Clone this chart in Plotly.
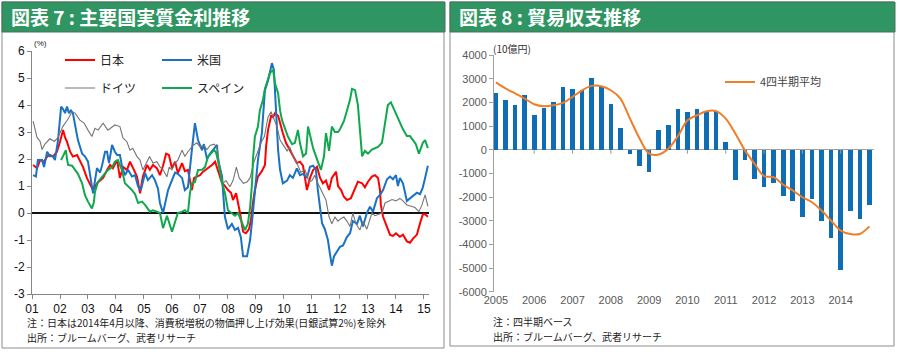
import plotly.graph_objects as go

# ---------------- Left chart: real interest rates (%) ----------------
jp_t = [2001.04, 2001.18, 2001.29, 2001.43, 2001.54, 2001.64, 2001.75, 2001.89,
        2002.00, 2002.11, 2002.18, 2002.25, 2002.36, 2002.46, 2002.61, 2002.71, 2002.82, 2002.96,
        2003.07, 2003.18, 2003.32, 2003.43, 2003.54, 2003.68, 2003.79, 2003.89,
        2004.04, 2004.14, 2004.25, 2004.39, 2004.50, 2004.61, 2004.75, 2004.86, 2004.96,
        2005.11, 2005.21, 2005.32, 2005.46, 2005.57, 2005.68, 2005.79, 2005.89,
        2006.00, 2006.11, 2006.21, 2006.36, 2006.46, 2006.57, 2006.71, 2006.79, 2006.89,
        2007.00, 2007.11, 2007.21, 2007.32, 2007.43, 2007.54, 2007.64, 2007.79, 2007.89,
        2008.00, 2008.11, 2008.18, 2008.29, 2008.36, 2008.43, 2008.54, 2008.64, 2008.75, 2008.82, 2008.89, 2008.96,
        2009.07, 2009.21, 2009.32, 2009.36, 2009.43, 2009.54, 2009.61, 2009.68, 2009.79, 2009.86, 2009.96,
        2010.07, 2010.21, 2010.32, 2010.46, 2010.57, 2010.68, 2010.82, 2010.93,
        2011.04, 2011.18, 2011.29, 2011.39, 2011.50, 2011.61, 2011.71, 2011.86, 2011.93,
        2012.04, 2012.14, 2012.25, 2012.39, 2012.50, 2012.64, 2012.79, 2012.89,
        2013.00, 2013.14, 2013.25, 2013.36, 2013.43, 2013.46, 2013.54, 2013.68, 2013.79, 2013.89,
        2014.00, 2014.14, 2014.25, 2014.39, 2014.50, 2014.61, 2014.75, 2014.86, 2014.96,
        2015.04, 2015.14]
jp_v = [1.78, 1.66, 1.96, 1.90, 2.09, 2.15, 2.09, 2.27,
        2.64, 3.07, 2.80, 2.64, 2.27, 2.09, 2.15, 1.96, 1.71, 1.30,
        1.10, 0.85, 1.10, 1.22, 1.30, 1.59, 1.78, 1.66,
        1.96, 1.30, 1.71, 1.59, 1.90, 1.66, 1.35, 0.73, 1.35,
        1.78, 1.60, 1.78, 1.66, 1.40, 1.75, 2.20, 2.15,
        1.66, 1.90, 1.48, 1.85, 1.55, 1.60, 0.85, 1.30, 1.35,
        1.40, 1.53, 1.60, 1.71, 1.78, 1.90, 1.60, 1.10, 1.00,
        0.85, 0.75, 0.48, 0.73, 0.40, 0.00, -0.69, -0.75, -0.60, -0.26, 0.37, 0.85,
        1.35, 1.55, 1.78, 2.46, 3.07, 3.60, 3.55, 3.70, 3.60, 3.30, 2.96,
        2.60, 2.33, 2.10, 1.85, 1.90, 1.75, 0.85, 1.30,
        1.59, 1.71, 1.30, 1.10, 1.20, 0.85, 1.30, 1.53, 1.00,
        0.85, 0.60, 0.48, 0.55, 0.80, 1.16, 1.10, 0.95,
        1.16, 1.35, 1.40, 1.30, 0.85, 0.30, -0.14, -0.50, -0.81, -0.85,
        -0.75, -0.88, -0.80, -1.05, -1.10, -0.95, -0.80, -0.38, -0.05,
        -0.05, -0.14]

us_t = [2001.04, 2001.14, 2001.21, 2001.36, 2001.43, 2001.54, 2001.64, 2001.75, 2001.82, 2001.93,
        2002.04, 2002.11, 2002.18, 2002.25, 2002.32, 2002.39, 2002.46, 2002.54, 2002.64, 2002.79, 2002.89,
        2003.00, 2003.11, 2003.18, 2003.25, 2003.32, 2003.43, 2003.50, 2003.61, 2003.68, 2003.75, 2003.86, 2003.96,
        2004.04, 2004.14, 2004.21, 2004.32, 2004.43, 2004.57, 2004.68, 2004.79, 2004.89,
        2005.04, 2005.14, 2005.29, 2005.39, 2005.50, 2005.57, 2005.68, 2005.75, 2005.86,
        2006.00, 2006.11, 2006.21, 2006.36, 2006.46, 2006.57, 2006.71, 2006.82, 2006.93,
        2007.07, 2007.14, 2007.25, 2007.36, 2007.46, 2007.61, 2007.64, 2007.79, 2007.82, 2007.89,
        2008.00, 2008.14, 2008.25, 2008.36, 2008.46, 2008.54, 2008.68, 2008.79, 2008.86, 2008.96,
        2009.07, 2009.21, 2009.32, 2009.43, 2009.50, 2009.57, 2009.64, 2009.68, 2009.75, 2009.79, 2009.86, 2009.96,
        2010.11, 2010.21, 2010.32, 2010.46, 2010.57, 2010.68, 2010.82, 2010.93,
        2011.04, 2011.14, 2011.21, 2011.36, 2011.46, 2011.57, 2011.64, 2011.71, 2011.79, 2011.89,
        2012.00, 2012.11, 2012.25, 2012.36, 2012.46, 2012.61, 2012.71, 2012.82, 2012.96,
        2013.07, 2013.18, 2013.32, 2013.43, 2013.54, 2013.68, 2013.79, 2013.89,
        2014.00, 2014.07, 2014.14, 2014.25, 2014.39, 2014.50, 2014.61, 2014.75, 2014.86, 2014.96,
        2015.04, 2015.14]
us_v = [1.40, 1.35, 1.96, 1.96, 1.70, 2.27, 2.10, 2.10, 1.96, 2.70,
        3.94, 3.85, 3.70, 3.94, 3.70, 3.80, 3.70, 3.20, 2.70, 2.20, 2.10,
        1.90, 1.10, 0.73, 1.20, 1.66, 1.50, 1.75, 2.27, 2.27, 1.85, 2.52, 2.27,
        2.15, 2.15, 1.75, 1.40, 1.60, 1.35, 1.40, 0.98, 0.85,
        1.48, 1.22, 1.40, 1.22, 0.90, 0.37, 0.00, 0.30, 0.85,
        1.22, 1.50, 1.45, 1.30, 0.85, 0.95, 2.33, 3.33, 2.70,
        2.33, 2.55, 2.00, 2.20, 2.33, 2.52, 2.00, 1.35, 0.85, -0.14,
        -0.60, -0.40, -0.63, -0.55, -0.90, -1.60, -1.60, -1.00, -0.30, 0.85,
        1.96, 2.96, 4.55, 4.90, 5.20, 5.55, 5.30, 4.60, 3.30, 2.33, 1.60, 1.10,
        1.20, 1.40, 1.30, 1.65, 1.40, 1.45, 1.30, 1.71,
        1.75, 1.60, 0.85, -0.38, -0.60, -1.00, -1.50, -1.95, -1.60, -1.45,
        -1.25, -1.20, -0.88, -0.75, -0.30, -0.40, -0.10, -0.50, 0.00,
        0.23, 0.05, 0.55, 0.67, 0.85, 1.25, 1.35, 1.25,
        1.40, 1.00, 1.30, 1.10, 0.45, 0.55, 0.65, 0.75, 0.70, 0.95,
        1.30, 1.75]

de_t = [2001.04, 2001.18, 2001.29, 2001.36, 2001.46, 2001.64, 2001.80, 2001.93,
        2002.10, 2002.30, 2002.43, 2002.54, 2002.71, 2002.86,
        2003.00, 2003.14, 2003.25, 2003.36, 2003.54, 2003.71, 2003.96,
        2004.14, 2004.25, 2004.39, 2004.50, 2004.60, 2004.75, 2004.86, 2004.96,
        2005.10, 2005.20, 2005.32, 2005.46, 2005.57, 2005.68, 2005.82, 2005.90,
        2006.00, 2006.11, 2006.21, 2006.36, 2006.46, 2006.57, 2006.75, 2006.89,
        2007.00, 2007.14, 2007.25, 2007.36, 2007.50, 2007.61, 2007.71, 2007.82, 2007.93,
        2008.07, 2008.18, 2008.30, 2008.40, 2008.55, 2008.68, 2008.79, 2008.93,
        2009.07, 2009.18, 2009.30, 2009.43, 2009.54, 2009.64, 2009.75, 2009.86,
        2010.00, 2010.11, 2010.21, 2010.32, 2010.46, 2010.60, 2010.75, 2010.90,
        2011.00, 2011.10, 2011.21, 2011.36, 2011.50, 2011.61, 2011.71, 2011.82, 2011.93,
        2012.04, 2012.14, 2012.25, 2012.36, 2012.46, 2012.57, 2012.71, 2012.82, 2012.96,
        2013.14, 2013.25, 2013.39, 2013.50, 2013.61, 2013.75, 2013.86,
        2014.00, 2014.14, 2014.25, 2014.39, 2014.54, 2014.68, 2014.82, 2014.93,
        2015.04, 2015.14]
de_v = [3.40, 2.80, 2.65, 2.35, 2.55, 2.75, 2.65, 2.80,
        3.20, 3.50, 3.75, 3.70, 3.44, 3.33,
        3.07, 2.83, 3.14, 3.07, 3.33, 3.07, 3.26,
        3.20, 2.78, 2.64, 2.33, 2.40, 2.09, 1.96, 1.59,
        1.90, 2.09, 1.85, 1.90, 1.71, 1.60, 1.34, 1.70,
        1.60, 1.85, 1.96, 2.33, 2.09, 2.27, 2.50, 2.60,
        2.45, 2.50, 2.35, 2.50, 2.55, 2.44, 1.70, 1.10, 1.20,
        0.97, 1.20, 1.70, 1.30, 1.10, 1.15, 1.30, 1.90,
        2.33, 2.60, 2.83, 3.55, 3.75, 3.50, 3.20, 2.70,
        2.46, 2.30, 2.45, 2.10, 1.85, 1.50, 1.60, 1.15,
        1.20, 1.40, 1.10, 0.80, 0.48, -0.14, -0.40, -0.15, -0.30,
        -0.20, -0.15, -0.30, -0.50, 0.00, -0.40, -0.63, -0.30, -0.60,
        0.00, -0.10, -0.05, 0.00, 0.37, 0.45, 0.50,
        0.45, 0.54, 0.45, 0.30, 0.25, 0.20, 0.05, 0.30,
        0.67, 0.25]

es_t = [2002.04, 2002.11, 2002.21, 2002.25, 2002.29, 2002.43, 2002.54, 2002.64, 2002.79, 2002.86, 2002.89,
        2003.00, 2003.14, 2003.21, 2003.25, 2003.36, 2003.50, 2003.61, 2003.71, 2003.86, 2003.96,
        2004.07, 2004.21, 2004.32, 2004.43, 2004.57, 2004.68, 2004.79, 2004.93,
        2005.04, 2005.21, 2005.32, 2005.46, 2005.57, 2005.68, 2005.82,
        2006.00, 2006.14, 2006.21, 2006.36, 2006.46, 2006.57, 2006.64, 2006.71, 2006.82, 2006.93,
        2007.07, 2007.18, 2007.29, 2007.39, 2007.50, 2007.57, 2007.64, 2007.79, 2007.89,
        2008.00, 2008.14, 2008.25, 2008.36, 2008.50, 2008.61, 2008.71, 2008.79, 2008.86, 2008.89, 2008.96,
        2009.07, 2009.14, 2009.25, 2009.32, 2009.43, 2009.50, 2009.61, 2009.68, 2009.79, 2009.86, 2009.93,
        2010.04, 2010.14, 2010.29, 2010.39, 2010.50, 2010.57, 2010.68, 2010.79, 2010.86, 2010.93,
        2011.04, 2011.21, 2011.32, 2011.43, 2011.50, 2011.61, 2011.71, 2011.82, 2011.93,
        2012.00, 2012.14, 2012.25, 2012.36, 2012.43, 2012.54, 2012.64, 2012.71, 2012.79, 2012.89,
        2013.00, 2013.14, 2013.25, 2013.36, 2013.50, 2013.61, 2013.71, 2013.82, 2013.93,
        2014.04, 2014.14, 2014.25, 2014.39, 2014.50, 2014.61, 2014.71, 2014.82, 2014.96,
        2015.04, 2015.14]
es_v = [1.96, 2.10, 2.33, 2.00, 1.78, 1.75, 1.59, 1.45, 1.10, 0.75, 0.67,
        0.42, 0.17, 0.40, 0.79, 1.16, 1.35, 1.50, 1.59, 1.70, 1.90,
        1.96, 1.60, 1.10, 1.00, 0.85, 0.70, 0.37, 0.42,
        0.30, 0.05, 0.10, 0.05, 0.00, -0.56, -0.10,
        -0.69, -0.20, 0.00, 0.05, 0.10, 0.00, 0.73, 1.10, 1.15, 1.59,
        1.60, 1.70, 2.09, 2.20, 2.33, 2.25, 1.96, 1.10, 0.75,
        0.10, 0.00, -0.10, 0.00, -0.38, -0.63, -0.40, 0.20, 1.10, 1.96, 2.83,
        3.20, 3.81, 4.19, 4.60, 4.93, 5.18, 5.30, 4.80, 4.44, 3.80, 3.44,
        3.10, 2.83, 2.55, 2.60, 3.07, 2.60, 2.10, 2.20, 3.20, 2.90,
        2.40, 1.90, 1.60, 2.10, 2.96, 2.30, 3.20, 3.00, 3.00,
        3.10, 3.40, 3.80, 4.20, 4.60, 4.55, 4.00, 3.00, 2.10, 2.30,
        2.20, 2.35, 2.40, 2.45, 2.60, 3.30, 4.00, 4.10, 3.85,
        3.60, 3.40, 3.10, 2.85, 2.85, 2.70, 2.55, 2.20, 2.60,
        2.70, 2.40]

left_tick_years = list(range(2001, 2016))
left_tick_labels = ["01", "02", "03", "04", "05", "06", "07", "08",
                    "09", "10", "11", "12", "13", "14", "15"]
left_y_ticks = [-3, -2, -1, 0, 1, 2, 3, 4, 5, 6]

# ---------------- Right chart: trade balance (10億円) ----------------
quarters = [f"{y}Q{q}" for y in range(2005, 2015) for q in range(1, 5)]
trade_balance = [2400, 2100, 1900, 2300, 1450, 1750, 2000, 2650,
                 2580, 2530, 3030, 2650, 1920, 910, -170, -670,
                 -950, 820, 1060, 1700, 1590, 1700, 1650, 1630,
                 320, -1300, -450, -1230, -1570, -1410, -1940, -2180,
                 -2830, -2080, -3000, -3750, -5080, -2570, -2920, -2330]
trade_avg4 = [2840, 2585, 2375, 2160, 1920, 1835, 1875, 1975,
              2230, 2510, 2695, 2680, 2510, 2160, 1310, 470,
              -170, -200, 40, 565, 1240, 1455, 1625, 1630,
              1310, 680, -30, -590, -1120, -1160, -1480, -1725,
              -2010, -2220, -2570, -3000, -3420, -3560, -3560, -3240]
right_tick_years = list(range(2005, 2015))
right_y_ticks = list(range(-6000, 4001, 1000))

# ---------------- helpers ----------------
W, H = 900, 356
def px(x): return x / W
def py(y): return 1 - y / H

JP = "Noto Sans CJK JP"
NUM = "Liberation Sans, Arial, Noto Sans CJK JP"
q_pos = [int(q[:4]) + (int(q[-1]) - 1) / 4 for q in quarters]

fig = go.Figure()

series = [
    ("日本", jp_t, jp_v, "#ff0000", 2.0, "legend"),
    ("米国", us_t, us_v, "#1a72c4", 2.0, "legend"),
    ("ドイツ", de_t, de_v, "#767676", 1.1, "legend2"),
    ("スペイン", es_t, es_v, "#10a84e", 2.0, "legend2"),
]
for name, t, v, c, w, lg in series:
    fig.add_trace(go.Scatter(x=t, y=v, mode="lines", name=name,
                             line=dict(color=c, width=w),
                             xaxis="x", yaxis="y", legend=lg))

fig.add_trace(go.Bar(x=q_pos, y=trade_balance, width=0.12,
                     marker=dict(color="#0f6db4", line=dict(width=0)),
                     xaxis="x2", yaxis="y2", showlegend=False))
fig.add_trace(go.Scatter(x=q_pos, y=trade_avg4, mode="lines", name="4四半期平均",
                         line=dict(color="#f07d28", width=2, shape="spline", smoothing=0.9),
                         xaxis="x2", yaxis="y2", legend="legend3"))

GREEN = "#2f9663"
shapes = [
    dict(type="rect", xref="paper", yref="paper", x0=px(2), x1=px(444), y0=py(348), y1=py(2),
         line=dict(color="#8c8c8c", width=1), fillcolor="white", layer="below"),
    dict(type="rect", xref="paper", yref="paper", x0=px(450), x1=px(894), y0=py(346), y1=py(2),
         line=dict(color="#8c8c8c", width=1), fillcolor="white", layer="below"),
    dict(type="rect", xref="paper", yref="paper", x0=px(2), x1=px(445), y0=py(32), y1=py(2),
         line=dict(color="#4c6e5a", width=1), fillcolor=GREEN, layer="below"),
    dict(type="rect", xref="paper", yref="paper", x0=px(450), x1=px(895), y0=py(32), y1=py(2),
         line=dict(color="#4c6e5a", width=1), fillcolor=GREEN, layer="below"),
]
for yr in right_tick_years[1:]:
    shapes.append(dict(type="line", xref="x2", yref="y2", x0=yr, x1=yr, y0=0, y1=-170,
                       line=dict(color="#9a9a9a", width=1)))

note_font = dict(family=JP, size=10, color="#222")
annotations = [
    dict(text="図表 7 : 主要国実質金利推移", xref="paper", yref="paper", x=px(9), y=py(17),
         xanchor="left", yanchor="middle", showarrow=False,
         font=dict(family=JP, size=19, color="white", weight="bold")),
    dict(text="図表 8 : 貿易収支推移", xref="paper", yref="paper", x=px(457), y=py(17),
         xanchor="left", yanchor="middle", showarrow=False,
         font=dict(family=JP, size=19, color="white", weight="bold")),
    dict(text="(%)", xref="paper", yref="paper", x=px(32), y=py(44),
         xanchor="left", yanchor="middle", showarrow=False,
         font=dict(family=NUM, size=8, color="#222")),
    dict(text="(10億円)", xref="paper", yref="paper", x=px(491), y=py(48),
         xanchor="left", yanchor="middle", showarrow=False,
         font=dict(family=JP, size=10, color="#333")),
    dict(text="注：日本は2014年4月以降、消費税増税の物価押し上げ効果(日銀試算2%)を除外",
         xref="paper", yref="paper", x=px(26), y=py(322.5), xanchor="left", yanchor="middle",
         showarrow=False, borderpad=0, font=note_font),
    dict(text="出所：ブルームバーグ、武者リサーチ",
         xref="paper", yref="paper", x=px(26), y=py(337.5), xanchor="left", yanchor="middle",
         showarrow=False, borderpad=0, font=note_font),
    dict(text="注：四半期ベース",
         xref="paper", yref="paper", x=px(492), y=py(321), xanchor="left", yanchor="middle",
         showarrow=False, borderpad=0, font=note_font),
    dict(text="出所：ブルームバーグ、武者リサーチ",
         xref="paper", yref="paper", x=px(492), y=py(336), xanchor="left", yanchor="middle",
         showarrow=False, borderpad=0, font=note_font),
]

leg_common = dict(orientation="h", xanchor="left", yanchor="middle",
                  bgcolor="rgba(0,0,0,0)", borderwidth=0, itemwidth=30,
                  entrywidthmode="pixels", itemclick=False, itemdoubleclick=False)

fig.update_layout(
    width=W, height=H, autosize=False,
    margin=dict(l=0, r=0, t=0, b=0, pad=0, autoexpand=False),
    paper_bgcolor="white", plot_bgcolor="rgba(0,0,0,0)",
    showlegend=True,
    bargap=0,
    xaxis=dict(domain=[px(32), px(429)], range=[2001, 2015.18], anchor="y", automargin=False,
               tickmode="array", tickvals=left_tick_years, ticktext=left_tick_labels,
               showline=True, linecolor="#868686", linewidth=1,
               ticks="outside", ticklen=4, tickcolor="#868686",
               showgrid=False, zeroline=False,
               tickfont=dict(family=NUM, size=12, color="#111")),
    yaxis=dict(domain=[py(294), py(51)], range=[-3, 6], anchor="x", automargin=False,
               tickmode="array", tickvals=left_y_ticks, ticktext=[str(v) for v in left_y_ticks],
               showline=True, linecolor="#868686", linewidth=1,
               ticks="outside", ticklen=4, tickcolor="#868686",
               showgrid=False, zeroline=True, zerolinecolor="#111", zerolinewidth=1.3,
               tickfont=dict(family=NUM, size=12, color="#111")),
    xaxis2=dict(domain=[px(494), px(874)], range=[2004.95, 2014.87], anchor="y2", automargin=False,
                tickmode="array", tickvals=right_tick_years,
                ticktext=[str(y) for y in right_tick_years],
                showline=False, ticks="", showgrid=False, zeroline=False,
                tickfont=dict(family=NUM, size=11, color="#595959")),
    yaxis2=dict(domain=[py(291.7), py(55)], range=[-6000, 4000], anchor="x2", automargin=False,
                tickmode="array", tickvals=right_y_ticks,
                ticktext=[str(v) for v in right_y_ticks],
                showline=True, linecolor="#a0a0a0", linewidth=1,
                ticks="outside", ticklen=4, tickcolor="#a0a0a0",
                showgrid=False, zeroline=True, zerolinecolor="#a0a0a0", zerolinewidth=1,
                tickfont=dict(family=NUM, size=11, color="#595959")),
    legend=dict(x=px(60), y=py(60), entrywidth=52,
                font=dict(family=JP, size=12, color="#222"), **leg_common),
    legend2=dict(x=px(60), y=py(88), entrywidth=52,
                 font=dict(family=JP, size=12, color="#222"), **leg_common),
    legend3=dict(x=px(720), y=py(82), entrywidth=80,
                 font=dict(family=JP, size=11, color="#444"), **leg_common),
    shapes=shapes,
    annotations=annotations,
)

fig.write_html("out.html",
               config={"displayModeBar": False, "staticPlot": True},
               post_script="document.body.style.margin='0';document.body.style.padding='0';"
                           "document.documentElement.style.overflow='hidden';")
